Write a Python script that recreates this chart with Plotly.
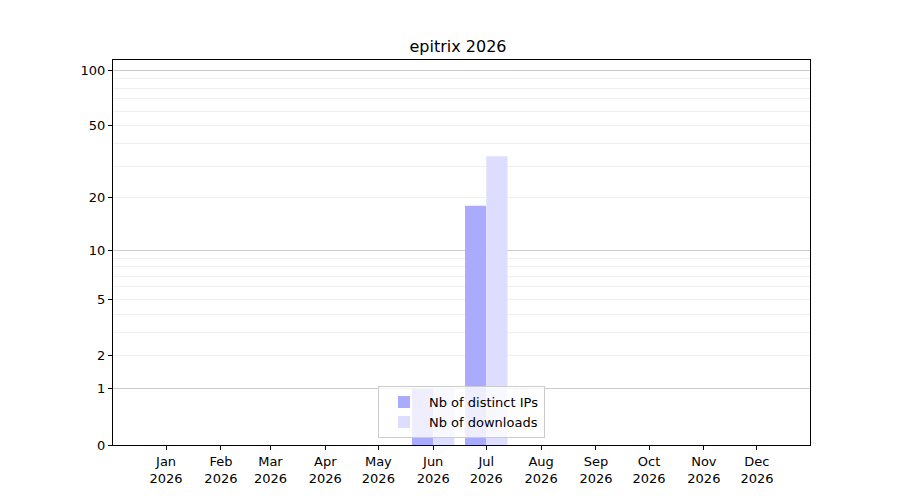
import plotly.graph_objects as go

months = ["2026-01-01", "2026-02-01", "2026-03-01", "2026-04-01", "2026-05-01", "2026-06-01",
          "2026-07-01", "2026-08-01", "2026-09-01", "2026-10-01", "2026-11-01", "2026-12-01"]
distinct_ips = [0, 0, 0, 0, 0, 1, 18, 0, 0, 0, 0, 0]
downloads = [0, 0, 0, 0, 0, 1, 34, 0, 0, 0, 0, 0]

tick_values = [0, 1, 2, 5, 10, 20, 50, 100]
major_grid = [1, 10, 100]
minor_grid = [2, 3, 4, 5, 6, 7, 8, 9, 20, 30, 40, 50, 60, 70, 80, 90]


# y axis is log10(1 + v), so shift everything by one
def shift(vals):
    return [v + 1 for v in vals]


DAY = 24 * 3600 * 1000
bar_w = 12 * DAY
font = "DejaVu Sans"
y_range = [0, 2.0588]

fig = go.Figure()

fig.add_trace(
    go.Bar(
        x=months,
        y=shift(distinct_ips),
        width=bar_w,
        offset=-bar_w,
        marker=dict(color="#aaaaff", line=dict(width=0)),
        name="Nb of distinct IPs",
    )
)
fig.add_trace(
    go.Bar(
        x=months,
        y=shift(downloads),
        width=bar_w,
        offset=0,
        marker=dict(color="#ddddff", line=dict(width=0)),
        name="Nb of downloads",
        yaxis="y2",
    )
)

fig.update_layout(
    width=900,
    height=500,
    margin=dict(l=105, r=98, t=52, b=63),
    plot_bgcolor="white",
    paper_bgcolor="white",
    barmode="overlay",
    font=dict(family=font, size=13, color="black"),
    title=dict(text="epitrix 2026", x=0.5, xanchor="center", y=0.924, yanchor="middle",
               font=dict(family=font, size=16, color="black")),
    legend=dict(
        x=0.5, xanchor="center", y=0.018, yanchor="bottom",
        bgcolor="rgba(255,255,255,0.8)", bordercolor="#cccccc", borderwidth=1,
        font=dict(family=font, size=13),
        itemwidth=40,
        tracegroupgap=0,
    ),
    xaxis=dict(
        type="date",
        range=["2025-12-02", "2026-12-31"],
        tickvals=months,
        tickformat="%b<br>%Y",
        ticks="outside", ticklen=4, tickwidth=1, tickcolor="black",
        showline=True, linecolor="black", linewidth=1, mirror=True,
        showgrid=False, zeroline=False,
    ),
    yaxis=dict(
        type="log",
        range=y_range,
        tickvals=shift(tick_values),
        ticktext=[str(t) for t in tick_values],
        ticks="outside", ticklen=4, tickwidth=1, tickcolor="black",
        showline=True, linecolor="black", linewidth=1, mirror=True,
        showgrid=False, zeroline=False,
        minor=dict(tickmode="array", tickvals=shift(minor_grid), showgrid=True,
                   gridcolor="#efefef", gridwidth=1, ticklen=0),
    ),
    yaxis2=dict(
        type="log",
        range=y_range,
        overlaying="y",
        side="left",
        tickvals=shift(major_grid),
        showticklabels=False,
        ticks="",
        showgrid=True, gridcolor="#cccccc", gridwidth=1,
        showline=False, zeroline=False,
    ),
)

fig.write_html("out.html")
